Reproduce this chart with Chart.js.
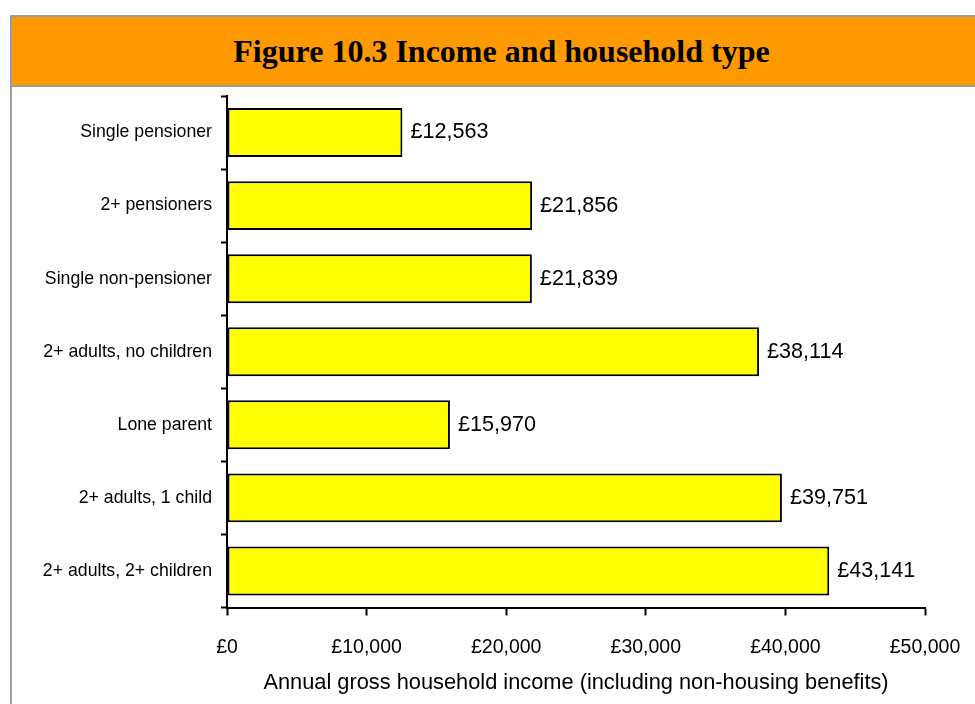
<!DOCTYPE html>
<html>
<head>
<meta charset="utf-8">
<script src="https://cdn.jsdelivr.net/npm/chart.js@4.4.0/dist/chart.umd.min.js"></script>
<style>
  html, body { margin: 0; padding: 0; background: #fff; overflow: hidden; }
  body { width: 975px; height: 704px; position: relative; }
  .frame {
    position: absolute; left: 10px; top: 15px; width: 979px; height: 700px;
    border-left: 2px solid #9c9c9c; border-top: 2px solid #9c9c9c;
  }
  .header {
    height: 68px; background: #ff9900; border-bottom: 2px solid #9c9c9c;
    display: flex; align-items: center; justify-content: center;
    font-family: "Liberation Serif", "Times New Roman", serif;
    font-weight: bold; font-size: 32px; color: #000;
  }
  .chart-box { position: absolute; left: 0; top: 70px; width: 963px; height: 617px; }
</style>
</head>
<body>
<div class="frame">
  <div class="header">Figure 10.3 Income and household type</div>
  <div class="chart-box"><canvas id="incomeChart"></canvas></div>
</div>
<script>
// Data
const categories = [
    'Single pensioner',
    '2+ pensioners',
    'Single non-pensioner',
    '2+ adults, no children',
    'Lone parent',
    '2+ adults, 1 child',
    '2+ adults, 2+ children'
];
const incomeValues = [12563, 21856, 21839, 38114, 15970, 39751, 43141];
const xTicks = [0, 10000, 20000, 30000, 40000, 50000];
const xAxisTitle = 'Annual gross household income (including non-housing benefits)';

const sans = '"Liberation Sans", Arial, sans-serif';

function pounds(v) {
    return '£' + Number(v).toLocaleString('en-GB');
}

// Draw value labels at end of each bar
const valueLabels = {
    id: 'valueLabels',
    afterDatasetsDraw(chart) {
        const ctx = chart.ctx;
        const meta = chart.getDatasetMeta(0);
        ctx.save();
        ctx.font = '21.6px ' + sans;
        ctx.fillStyle = '#000';
        ctx.textAlign = 'left';
        ctx.textBaseline = 'middle';
        meta.data.forEach((bar, i) => {
            ctx.fillText(pounds(incomeValues[i]), bar.x + 8, bar.y);
        });
        ctx.restore();
    }
};

new Chart(document.getElementById('incomeChart').getContext('2d'), {
    type: 'bar',
    data: {
        labels: categories,
        datasets: [{
            data: incomeValues,
            backgroundColor: '#ffff00',
            borderColor: '#000',
            borderWidth: 2,
            borderSkipped: false,
            barPercentage: 0.67,
            categoryPercentage: 1
        }]
    },
    options: {
        indexAxis: 'y',
        responsive: true,
        maintainAspectRatio: false,
        animation: false,
        layout: { padding: { top: 9, right: 50, bottom: 8, left: 0 } },
        plugins: {
            legend: { display: false },
            tooltip: { enabled: false }
        },
        scales: {
            x: {
                min: 0,
                max: 50000,
                afterBuildTicks: scale => {
                    scale.ticks = xTicks.map(v => ({ value: v }));
                },
                afterFit: scale => {
                    scale.height = 88.5;
                    scale.paddingLeft = 0;
                    scale.paddingRight = 0;
                },
                ticks: {
                    callback: v => pounds(v),
                    color: '#000',
                    padding: 20,
                    maxRotation: 0,
                    font: { family: sans, size: 19.5 }
                },
                grid: {
                    drawOnChartArea: false,
                    tickLength: 8,
                    tickWidth: 2,
                    tickColor: '#000'
                },
                border: { color: '#000', width: 2 },
                title: {
                    display: true,
                    text: xAxisTitle,
                    color: '#000',
                    padding: { top: 4, bottom: 0 },
                    font: { family: sans, size: 21.8 }
                }
            },
            y: {
                afterFit: scale => {
                    scale.width = 215;
                    scale.paddingTop = 0;
                    scale.paddingBottom = 0;
                },
                ticks: {
                    color: '#000',
                    padding: 9,
                    font: { family: sans, size: 17.7 }
                },
                grid: {
                    drawOnChartArea: false,
                    offset: true,
                    tickLength: 6,
                    tickWidth: 2,
                    tickColor: '#000'
                },
                border: { color: '#000', width: 2 }
            }
        }
    },
    plugins: [valueLabels]
});
</script>
</body>
</html>
